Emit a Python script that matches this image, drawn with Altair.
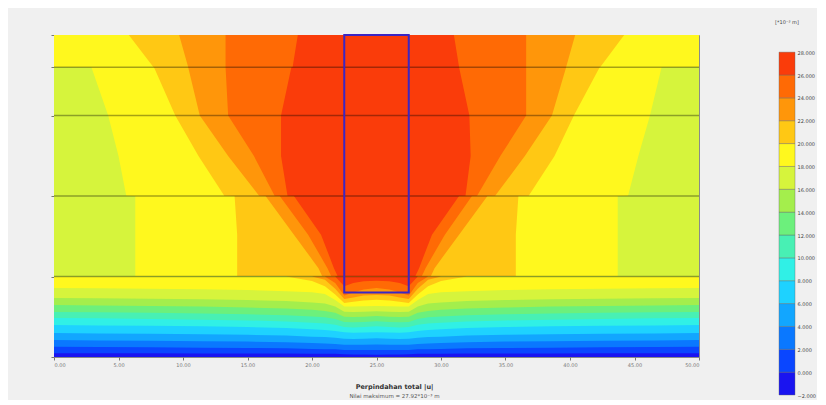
import altair as alt
import pandas as pd

# ---- legend / colour bands (lower bound of each 2-unit band) ----
BAND_LO = [-2, 0, 2, 4, 6, 8, 10, 12, 14, 16, 18, 20, 22, 24, 26]
BAND_COLORS = ["#1a14f0", "#0a46ff", "#0a78ff", "#12a6ff", "#1ed2ff",
               "#30f0e6", "#48f0b4", "#6cf07c", "#a4ee4c", "#d6f43c",
               "#fff81e", "#ffc814", "#ff960a", "#ff6a05", "#fa3c0a"]
LEGEND_TICKS = [-2, 0, 2, 4, 6, 8, 10, 12, 14, 16, 18, 20, 22, 24, 26, 28]

# ---- geometry (m) ----
X_TICKS = [0, 5, 10, 15, 20, 25, 30, 35, 40, 45, 50]
LAYER_LINES = [22.5, 18.75, 12.5, 6.25]
PILE_X = [22.5, 27.5]
PILE_Y = [5.0, 25.0]

# ---- upper soil: left / right x of each contour (value >= level between them) ----
UP_Y = [25.0, 22.51, 22.5, 18.75, 15.6, 12.51, 12.5, 9.5, 6.9, 6.25]
UP_L18 = [0.0, 0.0, 2.9, 4.2, 5.0, 5.6, 6.3, 6.3, 6.3, 6.3]
UP_R18 = [50.0, 50.0, 47.1, 46.2, 45.3, 44.5, 43.7, 43.7, 43.7, 43.7]
UP_L20 = [5.8, 7.7, 7.75, 9.4, 11.2, 13.2, 14.0, 14.2, 14.2, 14.2]
UP_R20 = [44.2, 42.35, 42.3, 40.3, 38.8, 36.8, 36.0, 35.8, 35.8, 35.8]
UP_L22 = [9.7, 10.4, 10.4, 11.3, 13.5, 15.9, 16.4, 18.6, 20.5, 20.8]
UP_R22 = [40.4, 39.7, 39.7, 38.6, 36.5, 34.2, 33.6, 31.4, 29.5, 29.2]
UP_L24 = [13.3, 13.3, 13.3, 13.5, 15.5, 17.1, 17.5, 19.7, 21.2, 21.5]
UP_R24 = [36.6, 36.6, 36.6, 36.6, 34.6, 32.8, 32.4, 30.3, 28.8, 28.5]
UP_L26 = [18.9, 18.5, 18.4, 17.6, 17.6, 18.1, 18.6, 20.7, 21.7, 22.0]
UP_R26 = [31.0, 31.4, 31.4, 32.2, 32.3, 31.9, 31.4, 29.3, 28.3, 28.0]

# ---- lower soil: depth of each contour (value >= level above it) ----
LOW_X = [0, 3.5, 7.5, 11.5, 15, 18, 20, 21, 21.8, 22.5, 23.2, 24, 25,
         26, 26.8, 27.5, 28.2, 29, 30, 32, 35, 38.5, 42.5, 46.5, 50]
LOW_0 = [0.30, 0.30, 0.30, 0.28, 0.28, 0.27, 0.25, 0.25, 0.25, 0.22, 0.20, 0.20, 0.18,
         0.20, 0.20, 0.22, 0.25, 0.25, 0.25, 0.27, 0.28, 0.28, 0.30, 0.30, 0.30]
LOW_2 = [0.80, 0.78, 0.76, 0.72, 0.70, 0.68, 0.62, 0.60, 0.60, 0.55, 0.55, 0.55, 0.55,
         0.55, 0.55, 0.55, 0.60, 0.60, 0.62, 0.68, 0.70, 0.72, 0.76, 0.78, 0.80]
LOW_4 = [1.32, 1.28, 1.26, 1.22, 1.20, 1.15, 1.08, 1.05, 1.00, 0.95, 0.95, 0.95, 0.98,
         0.95, 0.95, 0.95, 1.00, 1.05, 1.08, 1.15, 1.20, 1.22, 1.26, 1.28, 1.32]
LOW_6 = [1.86, 1.82, 1.80, 1.76, 1.72, 1.66, 1.58, 1.55, 1.50, 1.42, 1.40, 1.42, 1.45,
         1.42, 1.40, 1.42, 1.50, 1.55, 1.58, 1.66, 1.72, 1.76, 1.80, 1.82, 1.86]
LOW_8 = [2.48, 2.45, 2.42, 2.38, 2.32, 2.25, 2.15, 2.10, 2.02, 1.92, 1.88, 1.90, 1.92,
         1.90, 1.88, 1.92, 2.02, 2.10, 2.15, 2.25, 2.32, 2.38, 2.42, 2.45, 2.48]
LOW_10 = [3.03, 3.00, 2.96, 2.90, 2.84, 2.76, 2.66, 2.60, 2.50, 2.32, 2.30, 2.32, 2.38,
          2.32, 2.30, 2.32, 2.50, 2.60, 2.66, 2.76, 2.84, 2.90, 2.96, 3.00, 3.03]
LOW_12 = [3.50, 3.47, 3.43, 3.38, 3.32, 3.24, 3.14, 3.08, 2.96, 2.72, 2.70, 2.72, 2.78,
          2.72, 2.70, 2.72, 2.96, 3.08, 3.14, 3.24, 3.32, 3.38, 3.43, 3.47, 3.50]
LOW_14 = [4.04, 4.00, 3.96, 3.92, 3.84, 3.76, 3.66, 3.58, 3.44, 3.12, 3.10, 3.12, 3.18,
          3.12, 3.10, 3.12, 3.44, 3.58, 3.66, 3.76, 3.84, 3.92, 3.96, 4.00, 4.04]
LOW_16 = [4.58, 4.56, 4.52, 4.48, 4.42, 4.34, 4.24, 4.16, 3.92, 3.52, 3.50, 3.52, 3.56,
          3.52, 3.50, 3.52, 3.92, 4.16, 4.24, 4.34, 4.42, 4.48, 4.52, 4.56, 4.58]
LOW_18 = [5.36, 5.34, 5.30, 5.26, 5.20, 5.10, 5.02, 4.90, 4.42, 3.92, 3.92, 3.94, 3.96,
          3.94, 3.92, 3.92, 4.42, 4.90, 5.02, 5.10, 5.20, 5.26, 5.30, 5.34, 5.36]
LOW_20 = [6.25, 6.25, 6.25, 6.25, 6.25, 6.25, 5.90, 5.50, 4.85, 4.20, 4.28, 4.38, 4.44,
          4.38, 4.28, 4.20, 4.85, 5.50, 5.90, 6.25, 6.25, 6.25, 6.25, 6.25, 6.25]
LOW_22 = [6.25, 6.25, 6.25, 6.25, 6.25, 6.25, 6.25, 6.00, 5.30, 4.50, 4.62, 4.78, 4.82,
          4.78, 4.62, 4.50, 5.30, 6.00, 6.25, 6.25, 6.25, 6.25, 6.25, 6.25, 6.25]
LOW_24 = [6.25, 6.25, 6.25, 6.25, 6.25, 6.25, 6.25, 6.25, 5.75, 4.78, 5.00, 5.25, 5.36,
          5.25, 5.00, 4.78, 5.75, 6.25, 6.25, 6.25, 6.25, 6.25, 6.25, 6.25, 6.25]
LOW_26 = [6.25, 6.25, 6.25, 6.25, 6.25, 6.25, 6.25, 6.25, 6.25, 5.50, 5.75, 5.88, 5.92,
          5.88, 5.75, 5.50, 6.25, 6.25, 6.25, 6.25, 6.25, 6.25, 6.25, 6.25, 6.25]

TITLE = "Perpindahan total |u|"
SUBTITLE = "Nilai maksimum = 27.92*10⁻³ m"
UNIT = "[*10⁻³ m]"

FONT = "DejaVu Sans"
band_names = [str(b) for b in BAND_LO]
color_scale = alt.Scale(domain=band_names, range=BAND_COLORS)

xs = alt.Scale(domain=[0, 50], nice=False, zero=False)
ys = alt.Scale(domain=[0, 25], nice=False, zero=False)

def col():
    return alt.Color("band:N", scale=color_scale, legend=None)

layers = []
# base fills
base = pd.DataFrame({"x0": [0, 0], "x1": [50, 50], "y0": [6.25, 0.0],
                     "y1": [25.0, 6.25], "band": ["16", "-2"]})
layers.append(alt.Chart(base).mark_rect().encode(
    x=alt.X("x0:Q", scale=xs, axis=alt.Axis(values=X_TICKS, format=".2f", labelFontSize=5,
                                              labelColor="#777", tickSize=3, tickColor="#777",
                                              domain=False, grid=False, title=None,
                                              labelPadding=2, labelFont=FONT)),
    x2="x1:Q",
    y=alt.Y("y0:Q", scale=ys, axis=alt.Axis(values=[0, 6.25, 12.5, 18.75, 22.5, 25],
                                              labels=False, tickSize=3, tickColor="#777",
                                              domain=False, grid=False, title=None)),
    y2="y1:Q",
    color=col()))

upper = [(18, UP_L18, UP_R18), (20, UP_L20, UP_R20), (22, UP_L22, UP_R22),
         (24, UP_L24, UP_R24), (26, UP_L26, UP_R26)]
for lvl, left, right in upper:
    df = pd.DataFrame({"y": UP_Y, "xl": left, "xr": right, "band": str(lvl)})
    layers.append(alt.Chart(df).mark_area(orient="horizontal").encode(
        y=alt.Y("y:Q", scale=ys), x=alt.X("xl:Q", scale=xs), x2="xr:Q", color=col()))

lower = [(0, LOW_0), (2, LOW_2), (4, LOW_4), (6, LOW_6), (8, LOW_8), (10, LOW_10),
         (12, LOW_12), (14, LOW_14), (16, LOW_16), (18, LOW_18), (20, LOW_20),
         (22, LOW_22), (24, LOW_24), (26, LOW_26)]
for lvl, yy in lower:
    df = pd.DataFrame({"x": LOW_X, "y": yy, "top": 6.25, "band": str(lvl)})
    layers.append(alt.Chart(df).mark_area(orient="vertical").encode(
        x=alt.X("x:Q", scale=xs), y=alt.Y("y:Q", scale=ys), y2="top:Q", color=col()))

lines = pd.DataFrame({"y": LAYER_LINES, "x0": 0, "x1": 50})
layers.append(alt.Chart(lines).mark_rule(color="#000000", opacity=0.35, strokeWidth=1.5).encode(
    x=alt.X("x0:Q", scale=xs), x2="x1:Q", y=alt.Y("y:Q", scale=ys)))

pile = pd.DataFrame({"x0": [PILE_X[0]], "x1": [PILE_X[1]], "y0": [PILE_Y[0]], "y1": [PILE_Y[1]]})
layers.append(alt.Chart(pile).mark_rect(filled=False, stroke="#3a26c4", strokeWidth=2).encode(
    x=alt.X("x0:Q", scale=xs), x2="x1:Q", y=alt.Y("y0:Q", scale=ys), y2="y1:Q"))

main = alt.layer(*layers).properties(
    width=645, height=322,
    view=alt.ViewBackground(stroke="#8a8a8a", strokeWidth=1),
    title=alt.TitleParams(text=TITLE, subtitle=SUBTITLE, orient="bottom", anchor="middle",
                          fontSize=6.5, fontWeight="bold", subtitleFontSize=5.5, font=FONT,
                          subtitleFont=FONT, color="#333333", subtitleColor="#555555",
                          offset=17, subtitlePadding=3, dx=18))

leg_df = pd.DataFrame({"lo": BAND_LO, "hi": [b + 2 for b in BAND_LO],
                       "band": band_names, "c": "c"})
legend = alt.Chart(leg_df).mark_rect(stroke="#666666", strokeWidth=0.4).encode(
    x=alt.X("c:N", axis=None, scale=alt.Scale(paddingInner=0, paddingOuter=0)),
    y=alt.Y("lo:Q", scale=alt.Scale(domain=[-2, 29.5], nice=False, zero=False),
            axis=alt.Axis(orient="right", values=LEGEND_TICKS, format=".3f", labelFontSize=5,
                          labelColor="#444", ticks=False, domain=False, grid=False,
                          title=None, labelPadding=2, labelFont=FONT)),
    y2="hi:Q",
    color=col()).properties(
    width=16, height=360,
    view=alt.ViewBackground(stroke="transparent"),
    title=alt.TitleParams(text=UNIT, fontSize=5, font=FONT, color="#444", fontWeight="normal",
                          anchor="middle", offset=10))

chart = alt.hconcat(main, legend, spacing=80, bounds="flush").properties(
    background="#f0f0f0",
    padding={"left": 42, "top": 11, "right": 0, "bottom": 0}
)

chart.save("out.html", embed_options={"renderer": "svg", "actions": False})
